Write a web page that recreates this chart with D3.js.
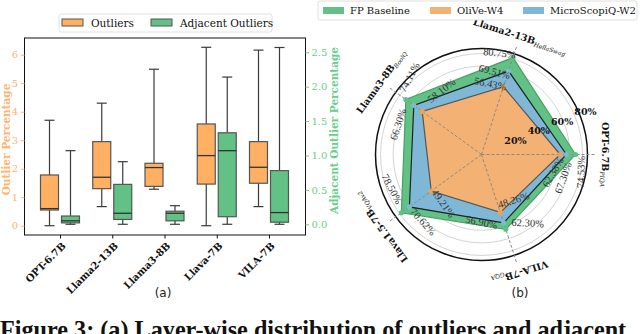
<!DOCTYPE html>
<html><head><meta charset="utf-8">
<script src="https://cdn.jsdelivr.net/npm/d3@7"></script>
<style>body{margin:0;background:#fff;} svg{display:block;}</style>
</head><body>
<svg id="c" width="640" height="334"></svg>
<script>
// ---------- data: box plot (a) ----------
const models = ["OPT-6.7B","Llama2-13B","Llama3-8B","Llava-7B","VILA-7B"];
// [min, q1, median, q3, max] outlier percentage (left axis)
const outlierStats = [
  [0, 0.55, 0.60, 1.78, 3.70],
  [0.67, 1.30, 1.70, 2.95, 4.30],
  [1.28, 1.38, 2.04, 2.19, 5.49],
  [0, 1.46, 2.46, 3.57, 6.26],
  [0.67, 1.49, 2.05, 2.95, 6.16]
];
// [min, q1, median, q3, max] adjacent outlier percentage (right axis)
const adjacentStats = [
  [0, 0.02, 0.05, 0.12, 1.07],
  [0, 0.07, 0.16, 0.58, 0.91],
  [0, 0.05, 0.16, 0.19, 0.27],
  [0, 0.11, 1.07, 1.33, 2.14],
  [0, 0.03, 0.17, 0.78, 2.57]
];
const leftTicks = [0,1,2,3,4,5,6];
const rightTicks = [0,0.5,1.0,1.5,2.0,2.5];

// ---------- data: radar (b) ----------
const radarAxes = ["OPT-6.7B","Llama2-13B","Llama3-8B","Llava1.5-7B","VILA-7B"];
const radarSubs = ["PIQA","HellaSwag","BoolQ","VQAv2","GQA"];
const fpBaseline = [74.53, 80.75, 74.11, 78.50, 62.30];
const microScopiQ = [67.30, 69.51, 66.30, 70.62, 56.90];
const oliVe = [62.38, 56.43, 58.10, 49.21, 48.26];
const ringTicks = [10,20,30,40,50,60,70,80];
const ringLabels = [20,40,60,80];
// value-label placement (style): angle offset (deg), radial offset (px), rotation (deg); rows FP, MSQ, OliVe
const labelDA = [[-10, 8, -11, -15, 16], [-16, 9, 16, 13, -18], [-14, 11, -22, 16, 17]];
const labelDR = [[7, 1, 12, -3, 4], [0, -4, 5, 0, -4], [-5, 0, 2, 0, -5]];
const labelRot = [[-88, 6, -62, 62, 3], [-70, 15, -72, 48, 12], [-60, 12, -38, 55, -18]];

const svg = d3.select("#c");
const serif = "'DejaVu Serif', serif";
const ORANGE = "#ffb063", GREEN = "#62c184", BLUE = "#7fb8d6";
const OR_TXT = "#ffb36e", GR_TXT = "#67cf8b";

// ================= (a) box plot =================
const fx0 = 24.5, fx1 = 305.5, fy0 = 38, fy1 = 235;
const x = d3.scalePoint().domain(models).range([60, 269]);
const yL = d3.scaleLinear().domain([-0.326, 6.586]).range([fy1, fy0]);
const yR = d3.scaleLinear().domain([-0.156, 2.708]).range([fy1, fy0]);
const gA = svg.append("g");

function drawBoxes(stats, y, dx, fill) {
  const bw = 18, cw = 10;
  stats.forEach((s, i) => {
    const cx = x(models[i]) + dx;
    const g = gA.append("g");
    g.append("line").attr("x1",cx).attr("x2",cx).attr("y1",y(s[0])).attr("y2",y(s[1])).attr("stroke","#3a3a3a").attr("stroke-width",1.2);
    g.append("line").attr("x1",cx).attr("x2",cx).attr("y1",y(s[3])).attr("y2",y(s[4])).attr("stroke","#3a3a3a").attr("stroke-width",1.2);
    g.append("line").attr("x1",cx-cw/2).attr("x2",cx+cw/2).attr("y1",y(s[0])).attr("y2",y(s[0])).attr("stroke","#3a3a3a").attr("stroke-width",1.2);
    g.append("line").attr("x1",cx-cw/2).attr("x2",cx+cw/2).attr("y1",y(s[4])).attr("y2",y(s[4])).attr("stroke","#3a3a3a").attr("stroke-width",1.2);
    g.append("rect").attr("x",cx-bw/2).attr("width",bw).attr("y",y(s[3])).attr("height",y(s[1])-y(s[3]))
      .attr("fill",fill).attr("stroke","#555").attr("stroke-width",1.2);
    g.append("line").attr("x1",cx-bw/2).attr("x2",cx+bw/2).attr("y1",y(s[2])).attr("y2",y(s[2])).attr("stroke","#333").attr("stroke-width",1.3);
  });
}
drawBoxes(outlierStats, yL, -10.5, ORANGE);
drawBoxes(adjacentStats, yR, 10.5, GREEN);

gA.append("rect").attr("x",fx0).attr("y",fy0).attr("width",fx1-fx0).attr("height",fy1-fy0)
  .attr("fill","none").attr("stroke","#111").attr("stroke-width",1);

// left axis
const axL = d3.axisLeft(yL).tickValues(leftTicks).tickFormat(d3.format("d")).tickSize(3.5).tickPadding(3);
const gL = gA.append("g").attr("transform",`translate(${fx0},0)`).call(axL);
gL.select(".domain").remove();
gL.selectAll("line").attr("stroke",OR_TXT);
gL.selectAll("text").attr("fill",OR_TXT).style("font-family",serif).style("font-size","10px");
// right axis
const axR = d3.axisRight(yR).tickValues(rightTicks).tickFormat(d3.format(".1f")).tickSize(3.5).tickPadding(2.5);
const gR = gA.append("g").attr("transform",`translate(${fx1},0)`).call(axR);
gR.select(".domain").remove();
gR.selectAll("line").attr("stroke",GR_TXT);
gR.selectAll("text").attr("fill",GR_TXT).style("font-family",serif).style("font-size","10px");
// bottom axis
const axB = d3.axisBottom(x).tickSize(3.5).tickFormat("");
const gB = gA.append("g").attr("transform",`translate(0,${fy1})`).call(axB);
gB.select(".domain").remove();
gB.selectAll("line").attr("stroke","#111");
models.forEach(m => {
  gA.append("text").attr("transform",`translate(${x(m)+4},${fy1+9}) rotate(-45)`)
    .attr("text-anchor","end").attr("dominant-baseline","central")
    .style("font-family",serif).style("font-weight","bold").style("font-size","10px").attr("fill","#111").text(m);
});
// axis titles
gA.append("text").attr("transform",`translate(6,${(fy0+fy1)/2+3}) rotate(-90)`).attr("text-anchor","middle")
  .attr("dominant-baseline","central")
  .style("font-family",serif).style("font-weight","bold").style("font-size","10.5px").attr("fill",OR_TXT).text("Outlier Percentage");
gA.append("text").attr("transform",`translate(334,${(fy0+fy1)/2-6}) rotate(-90)`).attr("text-anchor","middle")
  .attr("dominant-baseline","central")
  .style("font-family",serif).style("font-weight","bold").style("font-size","10.5px").attr("fill",GR_TXT).text("Adjacent Outlier Percentage");
// legend
const lg = gA.append("g");
lg.append("rect").attr("x",59).attr("y",14).attr("width",213).attr("height",18).attr("rx",2)
  .attr("fill","#fff").attr("stroke","#d8d8d8").attr("stroke-width",0.8);
[[ORANGE,"Outliers",62],[GREEN,"Adjacent Outliers",151]].forEach(([c,t,lx]) => {
  lg.append("rect").attr("x",lx).attr("y",19).attr("width",21).attr("height",7).attr("fill",c).attr("stroke","#555").attr("stroke-width",1);
  lg.append("text").attr("x",lx+29).attr("y",23).attr("dominant-baseline","central")
    .style("font-family",serif).style("font-size","10.5px").attr("fill","#111").text(t);
});
svg.append("text").attr("x",163).attr("y",297).attr("text-anchor","middle")
  .style("font-family","'DejaVu Sans', sans-serif").style("font-size","12px").attr("fill","#222").text("(a)");

// ================= (b) radar =================
const cx = 481.5, cy = 154.5;
const r = d3.scaleLinear().domain([0, 84]).range([0, 106]);
const ang = d3.scaleLinear().domain([0, radarAxes.length]).range([0, 2*Math.PI]);
const px = (i, v) => cx + r(v)*Math.cos(ang(i));
const py = (i, v) => cy - r(v)*Math.sin(ang(i));
const gB2 = svg.append("g");
ringTicks.forEach(t => gB2.append("circle").attr("cx",cx).attr("cy",cy).attr("r",r(t))
  .attr("fill","none").attr("stroke","#c8c8c8").attr("stroke-width",0.8));
gB2.append("circle").attr("cx",cx).attr("cy",cy).attr("r",r(84)).attr("fill","none").attr("stroke","#111").attr("stroke-width",1.5);

const series = [
  {vals: fpBaseline, fill: GREEN, stroke: "#4a9f68", marker: GREEN},
  {vals: microScopiQ, fill: BLUE, stroke: "#222", marker: BLUE},
  {vals: oliVe, fill: "#f3b273", stroke: "#555", marker: "#f5a04a"}
];
const line = d3.lineRadial().curve(d3.curveLinearClosed)
  .angle((d,i) => Math.PI/2 - ang(i)).radius(d => r(d));
series.forEach(s => {
  gB2.append("path").attr("transform",`translate(${cx},${cy})`).attr("d", line(s.vals))
    .attr("fill", s.fill).attr("stroke", s.stroke).attr("stroke-width", 1.2);
});
// axis spokes
radarAxes.forEach((a,i) => {
  gB2.append("line").attr("x1",cx).attr("y1",cy).attr("x2",px(i,91)).attr("y2",py(i,91))
    .attr("stroke","#888").attr("stroke-width",1).attr("stroke-dasharray","3,2");
});
// markers
series.forEach(s => s.vals.forEach((v,i) => {
  gB2.append("circle").attr("cx",px(i,v)).attr("cy",py(i,v)).attr("r",2.6).attr("fill",s.marker);
}));
// ring labels
const rlAng = 22.5*Math.PI/180;
ringLabels.forEach(t => {
  gB2.append("text").attr("x",cx + (r(t)+11.5)*Math.cos(rlAng)).attr("y",cy - (r(t)+11.5)*Math.sin(rlAng))
    .attr("text-anchor","middle").attr("dominant-baseline","central")
    .style("font-family",serif).style("font-weight","bold").style("font-size","9.5px").attr("fill","#111").text(t+"%");
});
// value labels
series.forEach((s, k) => s.vals.forEach((v,i) => {
  const a = ang(i) + labelDA[k][i]*Math.PI/180;
  const rr = r(v) + labelDR[k][i];
  const lx = cx + rr*Math.cos(a), ly = cy - rr*Math.sin(a);
  gB2.append("text").attr("transform",`translate(${lx},${ly}) rotate(${labelRot[k][i]})`)
    .attr("text-anchor","middle").attr("dominant-baseline","central")
    .style("font-family","'Liberation Serif', serif").style("font-size","10.5px").attr("fill","#333")
    .text(v.toFixed(2)+"%");
}));
// axis labels
radarAxes.forEach((a,i) => {
  const lx = px(i, 99), ly = py(i, 99);
  const rot = 90 - ang(i)*180/Math.PI;
  const t = gB2.append("text").attr("transform",`translate(${lx},${ly}) rotate(${rot})`)
    .attr("text-anchor","middle").attr("dominant-baseline","central")
    .style("font-family",serif).style("font-weight","bold").style("font-size","9.5px").attr("fill","#111");
  t.append("tspan").text(a);
  t.append("tspan").attr("baseline-shift","sub").style("font-size","6px").style("font-weight","normal").style("font-style","italic").text(radarSubs[i]);
});
// legend
const lb = svg.append("g");
lb.append("rect").attr("x",318).attr("y",1).attr("width",319).attr("height",19).attr("rx",2)
  .attr("fill","#fff").attr("stroke","#d8d8d8").attr("stroke-width",0.8);
[[GREEN,"FP Baseline",323],["#f3b273","OliVe-W4",430],[BLUE,"MicroScopiQ-W2",523]].forEach(([c,t,lx]) => {
  lb.append("rect").attr("x",lx).attr("y",7).attr("width",21).attr("height",7).attr("fill",c);
  lb.append("text").attr("x",lx+27).attr("y",10.5).attr("dominant-baseline","central")
    .style("font-family",serif).style("font-size","10px").attr("fill","#111").text(t);
});
svg.append("text").attr("x",520).attr("y",297).attr("text-anchor","middle")
  .style("font-family","'DejaVu Sans', sans-serif").style("font-size","12px").attr("fill","#222").text("(b)");

// caption (cut off at bottom, as in the reference)
svg.append("text").attr("x",0).attr("y",338)
  .style("font-family","'Liberation Serif', serif").style("font-weight","bold").style("font-size","24.2px").attr("fill","#111")
  .text("Figure 3: (a) Layer-wise distribution of outliers and adjacent");
</script>
</body></html>
